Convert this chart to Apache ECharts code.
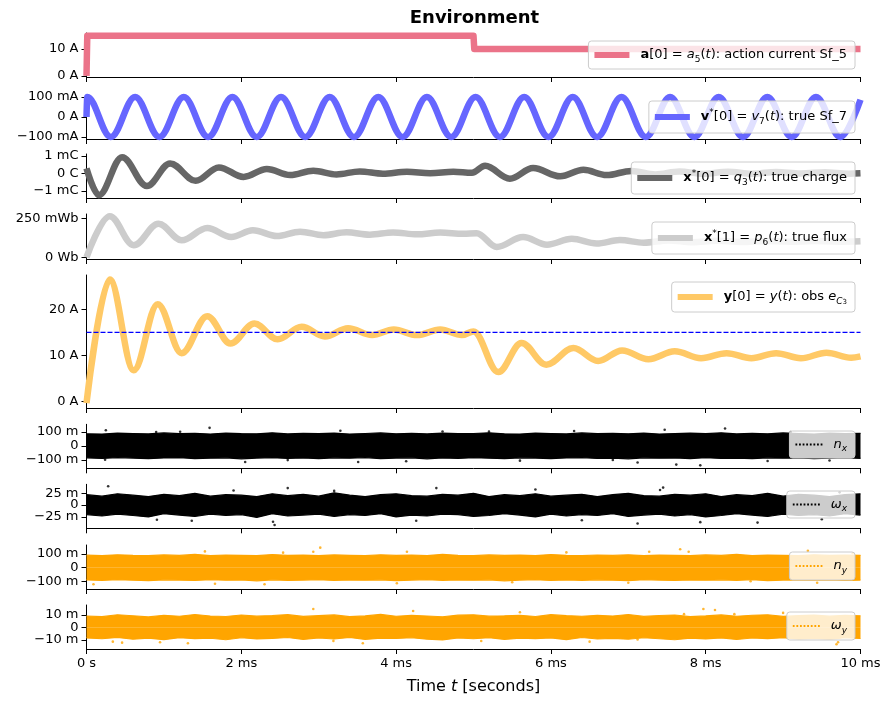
<!DOCTYPE html>
<html>
<head>
<meta charset="utf-8">
<script src="https://cdn.jsdelivr.net/npm/echarts@6/dist/echarts.min.js"></script>
<style>
  html, body { margin: 0; padding: 0; background: #fff; }
  #chart { width: 892px; height: 708px; }
</style>
</head>
<body>
<div id="chart"></div>
<script>
// ---- data (time in ms) ----
var actT = [0, 0.01, 5, 5.01, 10];
var actV = [0, 15, 15, 10, 10];

// v7: extrema of the 1.6 kHz source current (A)
var sineT = [0, 0.01, 0.314, 0.628, 0.942, 1.257, 1.571, 1.885, 2.199, 2.513, 2.827, 3.142, 3.456, 3.770,
  4.084, 4.398, 4.712, 5.027, 5.341, 5.655, 5.969, 6.283, 6.597, 6.912, 7.226, 7.540, 7.854, 8.168,
  8.482, 8.796, 9.111, 9.425, 9.739, 10];
var sineV = [0, 0.1, -0.1, 0.1, -0.1, 0.1, -0.1, 0.1, -0.1, 0.1, -0.1, 0.1, -0.1, 0.1,
  -0.1, 0.1, -0.1, 0.1, -0.1, 0.1, -0.1, 0.1, -0.1, 0.1, -0.1, 0.1, -0.1, 0.1,
  -0.1, 0.1, -0.1, 0.1, -0.1, 0.086];

// q3 charge (mC)
var chargeT = [0, 0.16, 0.46, 0.78, 1.08, 1.41, 1.71, 2.03, 2.33, 2.63, 2.93, 3.23, 3.53, 3.83, 4.14, 4.44,
  4.74, 4.98, 5.15, 5.47, 5.77, 6.12, 6.42, 6.72, 7.04, 7.35, 7.66, 7.97, 8.29, 8.6, 8.91, 9.23, 9.54, 9.85, 10];
var chargeV = [0.28, -1.24, 0.92, -0.72, 0.56, -0.42, 0.34, -0.2, 0.25, -0.1, 0.15, -0.06, 0.11, -0.02, 0.09, 0.0,
  0.09, 0.03, 0.43, -0.3, 0.3, -0.17, 0.2, -0.1, 0.14, -0.06, 0.11, -0.03, 0.09, -0.02, 0.08, -0.01, 0.07, -0.02, 0.0];

// p6 flux (mWb)
var fluxT = [0, 0.30, 0.61, 0.93, 1.23, 1.56, 1.87, 2.15, 2.46, 2.76, 3.06, 3.36, 3.66, 3.96, 4.27, 4.57, 4.87,
  5.04, 5.3, 5.64, 5.95, 6.27, 6.59, 6.89, 7.2, 7.52, 7.83, 8.14, 8.46, 8.77, 9.09, 9.4, 9.71, 10];
var fluxV = [0, 263, 77, 215, 109, 188, 130, 173, 136, 164, 141, 160, 145, 159, 147, 158, 150,
  154, 66, 130, 81, 118, 88, 110, 93, 108, 96, 106, 98, 105, 99, 104, 100, 103];

// y observation (A)
var obsT = [0, 0.30, 0.61, 0.92, 1.23, 1.56, 1.86, 2.17, 2.47, 2.78, 3.08, 3.38, 3.69, 3.97, 4.27, 4.57, 4.85,
  5.0, 5.32, 5.62, 5.94, 6.29, 6.61, 6.92, 7.26, 7.60, 7.94, 8.27, 8.59, 8.91, 9.23, 9.56, 9.88, 10];
var obsV = [-0.3, 26.4, 6.8, 21.1, 10.5, 18.5, 12.6, 16.9, 13.5, 16.2, 14.1, 15.9, 14.4, 15.6, 14.4, 15.6, 14.4,
  15.2, 6.4, 12.7, 8.0, 11.6, 8.8, 11.1, 9.2, 10.9, 9.4, 10.5, 9.4, 10.5, 9.4, 10.6, 9.5, 9.8];
var refT = [0, 10];
var refV = [15, 15];

// noise bands: upper / lower envelopes (milli units)
var noiseT = [0, 0.2, 0.4, 0.6, 0.8, 1, 1.2, 1.4, 1.6, 1.8, 2, 2.2, 2.4, 2.6, 2.8, 3, 3.2, 3.4, 3.6, 3.8, 4,
  4.2, 4.4, 4.6, 4.8, 5, 5.2, 5.4, 5.6, 5.8, 6, 6.2, 6.4, 6.6, 6.8, 7, 7.2, 7.4, 7.6, 7.8, 8,
  8.2, 8.4, 8.6, 8.8, 9, 9.2, 9.4, 9.6, 9.8, 10];
var nxUp = [86, 84, 90, 88, 85, 92, 87, 89, 84, 91, 88, 86, 93, 85, 89, 87, 90, 84, 88, 92, 86,
  89, 85, 91, 87, 88, 93, 86, 84, 90, 88, 85, 92, 87, 89, 86, 91, 84, 88, 90, 87,
  93, 85, 89, 86, 92, 88, 84, 90, 87, 89];
var nxLo = [-84, -88, -82, -86, -90, -85, -83, -89, -87, -84, -91, -86, -83, -88, -85, -90, -84, -87, -82, -89, -86,
  -84, -91, -85, -88, -83, -87, -90, -84, -86, -89, -85, -82, -88, -86, -91, -84, -87, -85, -89, -83,
  -88, -86, -90, -84, -87, -85, -89, -86, -83, -88];
var wxUp = [22, 19, 24, 21, 18, 23, 20, 25, 19, 22, 21, 18, 24, 20, 23, 19, 26, 21, 18, 22, 24,
  20, 19, 23, 21, 25, 18, 22, 20, 24, 19, 21, 23, 18, 22, 25, 20, 19, 23, 21, 24,
  18, 22, 20, 25, 19, 23, 21, 18, 22, 24];
var wxLo = [-20, -23, -19, -22, -25, -18, -21, -24, -19, -22, -20, -26, -18, -23, -21, -19, -24, -20, -22, -18, -25,
  -21, -23, -19, -20, -24, -22, -18, -21, -25, -19, -23, -20, -22, -18, -24, -21, -19, -23, -20, -25,
  -22, -18, -21, -24, -19, -22, -20, -23, -18, -21];
var nyUp = [90, 87, 93, 89, 86, 92, 88, 95, 87, 91, 89, 86, 94, 88, 90, 87, 92, 89, 86, 93, 88,
  91, 87, 95, 89, 86, 92, 88, 90, 87, 94, 89, 86, 91, 88, 93, 87, 90, 89, 86, 92,
  88, 95, 87, 90, 89, 86, 93, 88, 91, 89];
var nyLo = [-88, -91, -86, -90, -93, -87, -89, -92, -86, -90, -88, -94, -87, -91, -89, -86, -92, -88, -90, -87, -93,
  -89, -86, -91, -88, -90, -87, -94, -89, -86, -92, -88, -91, -87, -90, -93, -86, -89, -92, -88, -90,
  -87, -91, -86, -93, -89, -88, -90, -87, -92, -89];
var wyUp = [9, 8.5, 10, 9.2, 8.3, 9.6, 8.8, 10.2, 9, 8.6, 9.8, 8.9, 9.4, 10.1, 8.7, 9.3, 9.9, 8.5, 9.1, 10.3, 8.8,
  9.5, 9, 8.4, 9.7, 10, 8.9, 9.2, 9.6, 8.6, 10.1, 9.3, 8.8, 9.5, 9, 10.2, 8.7, 9.4, 9.8, 8.5, 9.1,
  9.9, 8.8, 9.6, 10, 8.7, 9.3, 9.7, 8.9, 9.5, 9.2];
var wyLo = [-8.5, -9.2, -8.1, -9.6, -8.7, -9.9, -8.3, -9.1, -8.8, -10, -8.4, -9.3, -8.9, -8.2, -9.7, -8.6, -9.4, -8.1, -9.8, -8.7, -9,
  -8.4, -9.5, -10.1, -8.6, -9.2, -8.3, -9.7, -8.8, -9.1, -8.5, -9.9, -8.2, -9.4, -8.9, -9.6, -8.4, -9.2, -10, -8.7, -9.3,
  -8.5, -9.8, -8.6, -9.1, -8.3, -9.5, -8.9, -9.7, -8.4, -9];

// stray points outside the bands
var nxOutT = [0.25, 1.59, 1.21, 2.05, 3.51, 4.13, 3.28, 0.24, 8.25, 7.62, 7.93, 7.47, 7.12, 0.9, 2.6, 4.6, 5.6, 6.3, 9.1, 9.6, 5.2, 6.8, 8.8];
var nxOutV = [111, 128, 100, -113, -113, -108, 107, -97, 123, -132, -137, 114, -117, 98, -100, 102, -104, 106, 99, -103, 101, -99, -106];
var wxOutT = [0.28, 2.41, 2.43, 1.36, 0.91, 2.6, 4.52, 4.26, 7.41, 7.12, 8.67, 9.73, 7.45, 7.93, 9.5, 5.8, 6.4, 3.2, 1.9];
var wxOutV = [40, -35, -42, -33, -31, 36, 36, -33, 32, -39, -37, 27, 37, -36, -30, 33, -32, 30, 31];
var nyOutT = [3.02, 0.09, 1.66, 2.3, 4.01, 4.14, 1.53, 2.93, 2.54, 7.67, 7.78, 7.27, 7.0, 8.58, 9.44, 9.32, 5.5, 6.2, 9.9];
var nyOutV = [144, -119, -115, -119, -112, 115, 117, 115, 108, 132, 115, 115, -108, -97, -108, 121, -105, 110, 104];
var wyOutT = [2.93, 4.22, 1.31, 3.57, 0.34, 0.46, 3.19, 0.95, 7.97, 8.12, 8.37, 9.69, 9.71, 7.72, 7.12, 5.6, 6.5, 9.0, 5.1];
var wyOutV = [14.6, 13, -12.8, -12.8, -11.5, -12.3, -10.9, -12, 14.6, 13.8, 10.5, -13.6, -12, 10.5, -9.7, 12, -11.5, 11.5, -11];

// tick labels
var xTicks = [0, 2, 4, 6, 8, 10];
var yTicksAct = [0, 10];
var yTicksSine = [-0.1, 0, 0.1];
var yTicksCharge = [-1, 0, 1];
var yTicksFlux = [0, 250];
var yTicksObs = [0, 10, 20];
var yTicksNx = [-100, 0, 100];
var yTicksWx = [-25, 0, 25];
var yTicksNy = [-100, 0, 100];
var yTicksWy = [-10, 0, 10];

// ---- helpers ----
function zip(t, v) { return t.map(function (x, i) { return [x, v[i]]; }); }
function minus(s) { return String(s).replace('-', '\u2212'); }

var FONT = 'DejaVu Sans';
var PINK = '#eb7389', BLUE = '#6666ff', DIM = '#666666', LIGHT = '#cccccc', OBS = '#ffc966', ORANGE = '#ffa500';

var panels = [
  { top: 33, height: 44, min: -0.4, max: 16, ticks: yTicksAct, fmt: function (v) { return minus(v) + ' A'; } },
  { top: 95, height: 44, min: -0.11, max: 0.11, ticks: yTicksSine, fmt: function (v) { return v === 0 ? '0 A' : minus(Math.round(v * 1000)) + ' mA'; } },
  { top: 154, height: 44, min: -1.4, max: 1.1, ticks: yTicksCharge, fmt: function (v) { return v === 0 ? '0 C' : minus(v) + ' mC'; } },
  { top: 214, height: 45, min: -11, max: 277, ticks: yTicksFlux, fmt: function (v) { return v === 0 ? '0 Wb' : v + ' mWb'; } },
  { top: 275, height: 133, min: -1.36, max: 27.4, ticks: yTicksObs, fmt: function (v) { return v + ' A'; } },
  { top: 424.3, height: 44, min: -158, max: 153, ticks: yTicksNx, split: true, fmt: function (v) { return v === 0 ? '0' : minus(v) + ' m'; } },
  { top: 484.3, height: 44, min: -49, max: 44, ticks: yTicksWx, split: true, fmt: function (v) { return v === 0 ? '0' : minus(v) + ' m'; } },
  { top: 545, height: 44, min: -153, max: 163, ticks: yTicksNy, split: true, fmt: function (v) { return v === 0 ? '0' : minus(v) + ' m'; } },
  { top: 605, height: 44, min: -17.4, max: 17.8, ticks: yTicksWy, split: true, fmt: function (v) { return v === 0 ? '0' : minus(v) + ' m'; } }
];

function mkY(i, p, vals, showLine) {
  return {
    type: 'value', gridIndex: i, min: p.min, max: p.max, position: 'left', offset: 0,
    axisLine: { show: showLine, onZero: false, lineStyle: { color: '#000', width: 1 } },
    axisTick: { show: true, length: 5, customValues: vals, lineStyle: { color: '#000' } },
    axisLabel: {
      show: true, margin: 8, customValues: vals, hideOverlap: false,
      fontFamily: FONT, fontSize: 13, color: '#000', formatter: p.fmt
    },
    splitLine: { show: false }
  };
}

var grids = [], xAxes = [], yAxes = [], extraY = [];
panels.forEach(function (p, i) {
  var last = i === panels.length - 1;
  grids.push({ left: 86.5, width: 774, top: p.top, height: p.height });
  xAxes.push({
    type: 'value', gridIndex: i, min: 0, max: 10, interval: 2,
    axisLine: { show: true, onZero: false, lineStyle: { color: '#000', width: 1 } },
    axisTick: { show: true, length: 5, customValues: xTicks, lineStyle: { color: '#000' } },
    axisLabel: {
      show: last, margin: 8, customValues: xTicks, fontFamily: FONT, fontSize: 13, color: '#000',
      formatter: function (v) { return v === 0 ? '0 s' : v + ' ms'; }
    },
    splitLine: { show: false },
    name: last ? '{n|Time }{i|t}{n| [seconds]}' : '',
    nameLocation: 'middle', nameGap: 30,
    nameTextStyle: {
      rich: {
        n: { fontFamily: FONT, fontSize: 16, color: '#000' },
        i: { fontFamily: FONT, fontSize: 16, fontStyle: 'italic', color: '#000' }
      }
    }
  });
  if (p.split) {
    // closely spaced ticks: put the middle tick on one axis and the outer pair on a twin axis
    yAxes.push(mkY(i, p, [p.ticks[1]], true));
    extraY.push(mkY(i, p, [p.ticks[0], p.ticks[2]], false));
  } else {
    yAxes.push(mkY(i, p, p.ticks, true));
  }
});
yAxes = yAxes.concat(extraY);

var rich = {
  b: { fontFamily: FONT, fontSize: 13, fontWeight: 'bold', color: '#000', lineHeight: 18 },
  i: { fontFamily: FONT, fontSize: 13, fontStyle: 'italic', color: '#000', lineHeight: 18 },
  sub: { fontFamily: FONT, fontSize: 9, color: '#000', lineHeight: 9, verticalAlign: 'bottom' },
  isub: { fontFamily: FONT, fontSize: 9, fontStyle: 'italic', color: '#000', lineHeight: 9, verticalAlign: 'bottom' },
  ssub: { fontFamily: FONT, fontSize: 7, color: '#000', lineHeight: 6, verticalAlign: 'bottom' },
  sup: { fontFamily: FONT, fontSize: 9, color: '#000', lineHeight: 9, verticalAlign: 'top' },
  sp: { width: 6 }
};

var DOTS = 'path://M0,0h2v2h-2zM4,0h2v2h-2zM8,0h2v2h-2zM12,0h2v2h-2zM16,0h2v2h-2zM20,0h2v2h-2zM24,0h2v2h-2zM28,0h2v2h-2z';

function mkLegend(name, top, label, color, dotted, vpad) {
  return {
    right: 37, top: top, orient: 'horizontal', selectedMode: false,
    data: [{ name: name, icon: dotted ? DOTS : 'rect', itemStyle: { color: color, borderWidth: 0 } }],
    itemWidth: dotted ? 27 : 35, itemHeight: dotted ? 2 : 6,
    padding: [vpad, 8, vpad, 6],
    backgroundColor: 'rgba(255,255,255,0.8)', borderColor: '#cccccc', borderWidth: 1, borderRadius: 3,
    textStyle: { fontFamily: FONT, fontSize: 13, color: '#000', lineHeight: 18, rich: rich },
    formatter: function () { return '{sp| }' + label; }
  };
}

var legends = [
  mkLegend('act', 41, '{b|a}[0] = {i|a}{sub|5}({i|t}): action current Sf_5', PINK, false, 5),
  mkLegend('sine', 101, '{b|v}{sup|*}[0] = {i|v}{sub|7}({i|t}): true Sf_7', BLUE, false, 7),
  mkLegend('charge', 162, '{b|x}{sup|*}[0] = {i|q}{sub|3}({i|t}): true charge', DIM, false, 7),
  mkLegend('flux', 222, '{b|x}{sup|*}[1] = {i|p}{sub|6}({i|t}): true flux', LIGHT, false, 7),
  mkLegend('obs', 282, '{b|y}[0] = {i|y}({i|t}): obs {i|e}{isub|C}{ssub|3}', OBS, false, 6),
  mkLegend('nx', 431, '{i|n}{isub|x}', '#000', true, 4.5),
  mkLegend('wx', 491, '{i|ω}{isub|x}', '#000', true, 4.5),
  mkLegend('ny', 552, '{i|n}{isub|y}', ORANGE, true, 5),
  mkLegend('wy', 612, '{i|ω}{isub|y}', ORANGE, true, 5)
];

function curve(name, idx, t, v, color, smooth) {
  return {
    name: name, type: 'line', xAxisIndex: idx, yAxisIndex: idx, data: zip(t, v),
    symbol: 'none', smooth: smooth, smoothMonotone: 'x',
    lineStyle: { color: color, width: 6.5, join: 'round', cap: 'butt' },
    itemStyle: { color: color }, z: 3
  };
}

var series = [
  curve('act', 0, actT, actV, PINK, false),
  curve('sine', 1, sineT, sineV, BLUE, 0.36),
  curve('charge', 2, chargeT, chargeV, DIM, 0.36),
  curve('flux', 3, fluxT, fluxV, LIGHT, 0.36),
  curve('obs', 4, obsT, obsV, OBS, 0.36),
  {
    name: 'ref', type: 'line', xAxisIndex: 4, yAxisIndex: 4, data: zip(refT, refV), symbol: 'none',
    lineStyle: { color: '#0000ff', width: 1.3, type: [5, 2] }, z: 4
  }
];

function noise(name, idx, up, lo, outT, outV, color) {
  var band = {
    type: 'line', xAxisIndex: idx, yAxisIndex: idx, symbol: 'none',
    lineStyle: { color: color, width: 1.2 }, areaStyle: { color: color, opacity: 1 },
    itemStyle: { color: color }, z: 2
  };
  series.push(Object.assign({ name: name, data: zip(noiseT, up) }, band));
  series.push(Object.assign({ name: name + '_lo', data: zip(noiseT, lo) }, band));
  series.push({
    name: name + '_out', type: 'scatter', xAxisIndex: idx, yAxisIndex: idx, data: zip(outT, outV),
    symbol: 'circle', symbolSize: 2.6, itemStyle: { color: color }, z: 2
  });
}
noise('nx', 5, nxUp, nxLo, nxOutT, nxOutV, '#000');
noise('wx', 6, wxUp, wxLo, wxOutT, wxOutV, '#000');
noise('ny', 7, nyUp, nyLo, nyOutT, nyOutV, ORANGE);
noise('wy', 8, wyUp, wyLo, wyOutT, wyOutV, ORANGE);

var chart = echarts.init(document.getElementById('chart'));
chart.setOption({
  animation: false,
  backgroundColor: '#fff',
  graphic: [{
    type: 'text', x: 474.5, y: 18,
    style: { text: 'Environment', fontFamily: FONT, fontSize: 18, fontWeight: 'bold', fill: '#000', textAlign: 'center', textVerticalAlign: 'middle' }
  }],
  grid: grids,
  xAxis: xAxes,
  yAxis: yAxes,
  legend: legends,
  series: series
});
</script>
</body>
</html>
